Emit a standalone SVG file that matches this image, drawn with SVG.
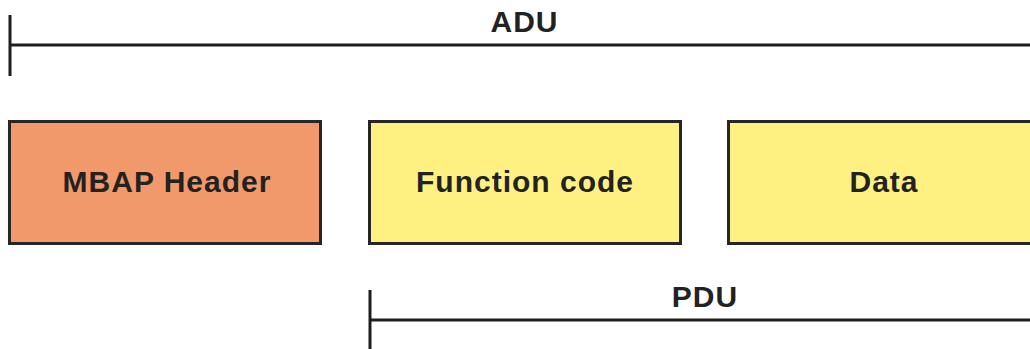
<svg xmlns="http://www.w3.org/2000/svg" width="1030" height="349" viewBox="0 0 1030 349">
<style>
.box{stroke:#262626;stroke-width:3}
.t{font-family:"Liberation Sans",Arial,sans-serif;font-weight:bold;font-size:30px;fill:#222;text-anchor:middle;letter-spacing:1px}
.ln{stroke:#1e1e1e;stroke-width:3;fill:none}
</style>
<rect width="1030" height="349" fill="#fff"/>
<g id="connectors">
<path class="ln" d="M10 15V76M10 45H1032"/>
<path class="ln" d="M370 290V349M370 320H1032"/>
</g>
<g id="adu-label"><text class="t" x="524.5" y="32">ADU</text></g>
<g id="pdu-label"><text class="t" x="705" y="307">PDU</text></g>
<g id="mbap">
<rect class="box" x="9.5" y="121.5" width="311" height="122" fill="#F2996B"/>
<text class="t" x="167" y="191.5">MBAP Header</text>
</g>
<g id="function-code">
<rect class="box" x="369.5" y="121.5" width="311" height="122" fill="#FFF082"/>
<text class="t" x="525" y="191.5">Function code</text>
</g>
<g id="data">
<rect class="box" x="728.5" y="121.5" width="311" height="122" fill="#FFF082"/>
<text class="t" x="884" y="191.5">Data</text>
</g>
</svg>
